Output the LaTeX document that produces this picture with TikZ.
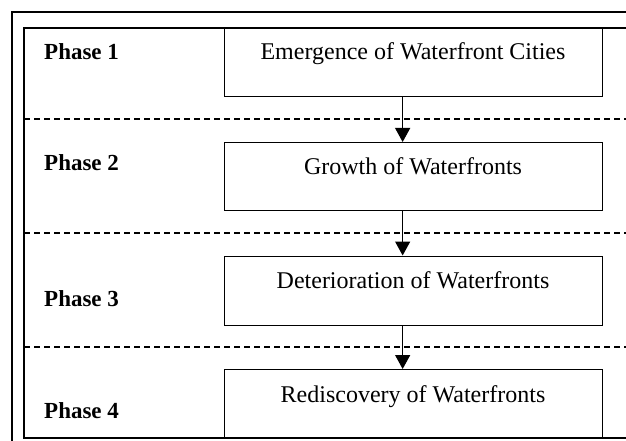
\documentclass[tikz,border=0pt]{standalone}
\usepackage{fontspec}
\setmainfont{Liberation Serif}
\usetikzlibrary{arrows.meta}
\tikzset{
  stagebox/.style={draw=black, line width=1.3pt, rectangle, minimum width=378pt, minimum height=68pt, inner sep=0pt, anchor=north west},
  stagetext/.style={anchor=base, inner sep=0pt, font=\fontsize{24}{28}\selectfont},
  phasetext/.style={anchor=base west, inner sep=0pt, font=\fontsize{23}{27}\selectfont\bfseries},
  sepline/.style={dashed, dash pattern=on 6pt off 4pt, line width=1.2pt},
  flowarrow/.style={line width=1.3pt, -{Triangle[width=15pt,length=14pt]}},
  framelineouter/.style={line width=1.8pt},
  framelineinner/.style={line width=1.3pt}
}
\begin{document}
\begin{tikzpicture}[x=1pt,y=-1pt]
\useasboundingbox (0,0) rectangle (626,441);
\clip (0,0) rectangle (626,441);
% outer frame
\draw[framelineouter] (12,460) -- (12,12) -- (660,12);
% inner frame
\draw[framelineinner] (660,28) -- (24,28) -- (24,438) -- (660,438);
% separators
\draw[sepline] (24,119) -- (660,119);
\draw[sepline] (24,233) -- (660,233);
\draw[sepline] (24,347) -- (660,347);
% boxes
\node[stagebox] (b1) at (224,28) {};
\node[stagebox] (b2) at (224,142) {};
\node[stagebox, minimum height=69pt] (b3) at (224,255.5) {};
\node[stagebox, minimum height=69pt] (b4) at (224,369) {};
% box texts
\node[stagetext] (t1) at (413,60) {Emergence of Waterfront Cities};
\node[stagetext] (t2) at (413,174) {Growth of Waterfronts};
\node[stagetext] (t3) at (413,288) {Deterioration of Waterfronts};
\node[stagetext] (t4) at (413,402) {Rediscovery of Waterfronts};
% phase labels
\node[phasetext] (p1) at (44,60) {Phase 1};
\node[phasetext] (p2) at (44,170) {Phase 2};
\node[phasetext] (p3) at (44,306) {Phase 3};
\node[phasetext] (p4) at (44,418) {Phase 4};
% arrows
\draw[flowarrow] ([xshift=-11pt]b1.south) -- ([xshift=-11pt]b2.north);
\draw[flowarrow] ([xshift=-11pt]b2.south) -- ([xshift=-11pt]b3.north);
\draw[flowarrow] ([xshift=-11pt]b3.south) -- ([xshift=-11pt]b4.north);
\end{tikzpicture}
\end{document}
